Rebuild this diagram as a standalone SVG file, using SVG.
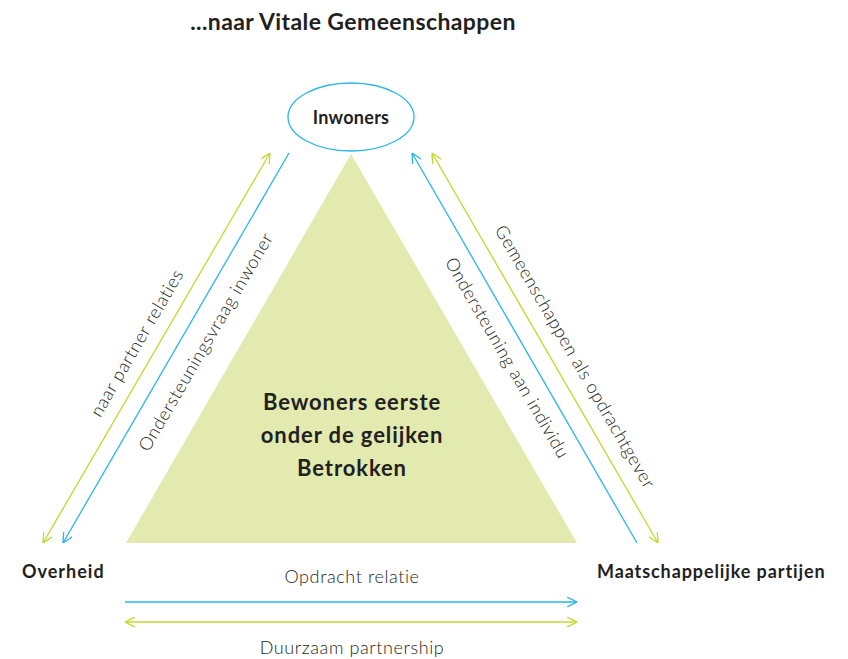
<svg xmlns="http://www.w3.org/2000/svg" width="848" height="659" viewBox="0 0 848 659">
<style>
.t{font-family:Lato,"Open Sans","Liberation Sans",sans-serif;fill:#231f20}
.b{font-weight:700}
.l{font-weight:300;font-size:18px;letter-spacing:0.6px}
.blue{stroke:#29b6ea;stroke-width:1.3;fill:none}
.green{stroke:#c3d82c;stroke-width:1.3;fill:none}
</style>
<defs>
<marker id="ab" viewBox="0 0 10 10" refX="10" refY="5" markerWidth="10" markerHeight="10" markerUnits="userSpaceOnUse" orient="auto-start-reverse"><path d="M0,0 L10,5 L0,10" fill="none" stroke="#29b6ea" stroke-width="1.3"/></marker>
<marker id="ag" viewBox="0 0 10 10" refX="10" refY="5" markerWidth="10" markerHeight="10" markerUnits="userSpaceOnUse" orient="auto-start-reverse"><path d="M0,0 L10,5 L0,10" fill="none" stroke="#c3d82c" stroke-width="1.3"/></marker>
</defs>
<rect width="848" height="659" fill="#fff"/>
<text class="t b" x="353" y="30" font-size="23" letter-spacing="0.4" text-anchor="middle">...naar Vitale Gemeenschappen</text>
<g id="triangle">
<polygon points="351,154 126,543 577,543" fill="#e2eab0"/>
<text class="t b" font-size="22" letter-spacing="0.9" text-anchor="middle"><tspan x="352" y="410">Bewoners eerste</tspan><tspan x="352" y="443">onder de gelijken</tspan><tspan x="352" y="476">Betrokken</tspan></text>
</g>
<g id="inwoners">
<ellipse cx="351" cy="117" rx="63" ry="34" fill="#fff" stroke="#29b6ea" stroke-width="1.3"/>
<text class="t b" x="351" y="124" font-size="18" letter-spacing="0.3" text-anchor="middle">Inwoners</text>
</g>
<g id="overheid"><text class="t b" x="22" y="578" font-size="18" letter-spacing="1">Overheid</text></g>
<g id="maatschappelijke"><text class="t b" x="597" y="578" font-size="18" letter-spacing="0.9">Maatschappelijke partijen</text></g>
<g id="connectors">
<line class="green" x1="43" y1="543" x2="270" y2="153" marker-start="url(#ag)" marker-end="url(#ag)"/>
<line class="blue" x1="289" y1="153" x2="63" y2="543" marker-end="url(#ab)"/>
<line class="blue" x1="637" y1="543" x2="412" y2="153" marker-end="url(#ab)"/>
<line class="green" x1="432" y1="153" x2="658" y2="543" marker-start="url(#ag)" marker-end="url(#ag)"/>
<line class="blue" x1="125" y1="602" x2="577" y2="602" marker-end="url(#ab)"/>
<line class="green" x1="125" y1="622" x2="577" y2="622" marker-start="url(#ag)" marker-end="url(#ag)"/>
<text class="t l" x="137" y="343" text-anchor="middle" transform="rotate(-59.8 137 343)" dy="6">naar partner relaties</text>
<text class="t l" x="206" y="342" text-anchor="middle" transform="rotate(-59.8 206 342)" dy="6">Ondersteuningsvraag inwoner</text>
<text class="t l" x="507" y="358" text-anchor="middle" transform="rotate(59.9 507 358)" dy="6">Ondersteuning aan individu</text>
<text class="t l" x="575" y="357" text-anchor="middle" transform="rotate(59.9 575 357)" dy="6">Gemeenschappen als opdrachtgever</text>
<text class="t l" x="352" y="583" text-anchor="middle">Opdracht relatie</text>
<text class="t l" x="352" y="654" text-anchor="middle">Duurzaam partnership</text>
</g>
</svg>
